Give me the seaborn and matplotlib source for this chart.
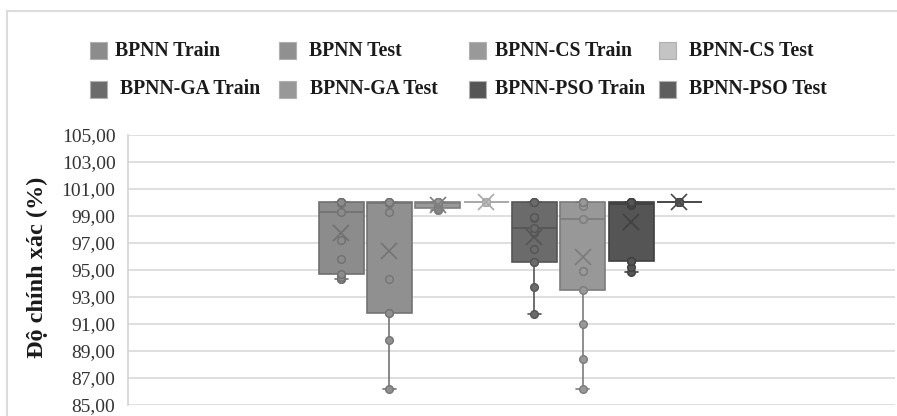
import matplotlib
matplotlib.use("Agg")
import matplotlib.pyplot as plt
from matplotlib.patches import Rectangle
from matplotlib.ticker import FuncFormatter
import seaborn as sns
import pandas as pd

# series shown left to right (and in legend order)
names = ["BPNN Train", "BPNN Test", "BPNN-CS Train", "BPNN-CS Test",
         "BPNN-GA Train", "BPNN-GA Test", "BPNN-PSO Train", "BPNN-PSO Test"]

# accuracy values (%)
bpnn_train = [94.3, 94.35, 94.5, 94.65, 95.8, 97.2, 99.27, 99.9, 100, 100, 100, 100, 100]
bpnn_test = [86.2, 89.8, 91.77, 91.77, 94.28, 99.27, 99.9, 99.95, 100, 100, 100, 100, 100]
cs_train = [99.4, 99.45, 99.5, 99.6, 99.75, 99.85, 99.95, 100, 100, 100, 100, 100, 100]
cs_test = [100, 100, 100, 100, 100, 100, 100, 100, 100, 100, 100, 100, 100]
ga_train = [91.72, 93.69, 95.58, 95.58, 96.5, 97.7, 98.11, 98.82, 98.9, 100, 100, 100, 100]
ga_test = [86.18, 88.4, 91.0, 93.49, 94.91, 94.91, 98.73, 99.69, 100, 100, 100, 100, 100]
pso_train = [94.85, 95.2, 95.65, 95.65, 99.81, 99.81, 99.89, 100, 100, 100, 100, 100, 100]
pso_test = [100, 100, 100, 100, 100, 100, 100, 100, 100, 100, 100, 100, 100]

yticks = [85, 87, 89, 91, 93, 95, 97, 99, 101, 103, 105]

values = [bpnn_train, bpnn_test, cs_train, cs_test, ga_train, ga_test, pso_train, pso_test]
fills = ["#8c8c8c", "#909090", "#999999", "#c4c4c4", "#6b6b6b", "#989898", "#555555", "#5e5e5e"]
edges = ["#707070", "#747474", "#7e7e7e", "#a8a8a8", "#555555", "#7c7c7c", "#404040", "#484848"]

rows = []
for name, vals in zip(names, values):
    for v in vals:
        rows.append({"series": name, "acc": v})
df = pd.DataFrame(rows)

sns.set_style("white")
plt.rcParams["font.family"] = ["Liberation Serif", "DejaVu Serif"]

W, H = 897, 416
fig = plt.figure(figsize=(W / 100, H / 100), dpi=100)
ax = fig.add_axes([128 / W, 1 - 405 / H, (895 - 128) / W, (405 - 134.5) / H])

for name, c, e in zip(names, fills, edges):
    sub = df[df["series"] == name]
    sns.boxplot(data=sub, x="series", y="acc", order=names, color=c, linecolor=e,
                width=0.93, linewidth=1.2, showmeans=True, showfliers=False,
                capwidths=0.27,
                meanprops=dict(marker="x", markersize=12, markeredgecolor=e,
                               markeredgewidth=1.2, zorder=5),
                ax=ax)
    sns.stripplot(data=sub, x="series", y="acc", order=names, color=c, jitter=False,
                  size=5.5, linewidth=1, edgecolor=e, zorder=4, ax=ax)

ax.set_xlim(-4.407, 11.46)
ax.set_ylim(85, 105)
ax.set_yticks(yticks)
ax.yaxis.set_major_formatter(FuncFormatter(lambda v, p: f"{v:.2f}".replace(".", ",")))
ax.set_xticks([])
ax.set_xlabel("")
ax.set_ylabel("")
ax.grid(axis="y", color="#d9d9d9", linewidth=1.2)
ax.set_axisbelow(True)
for s in ["top", "right", "bottom"]:
    ax.spines[s].set_visible(False)
ax.spines["left"].set_color("#d4d4d4")
ax.spines["left"].set_linewidth(1.2)
ax.tick_params(axis="y", length=0, pad=9, labelsize=14, labelcolor="#333333")
for t in ax.get_yticklabels():
    t.set_clip_on(False)

fig.text(37 / W, 1 - 267 / H, "Độ chính xác (%)", rotation=90, ha="center", va="center",
         fontsize=17.5, fontweight="bold", color="#1a1a1a")

# outer chart border
fig.patches.append(Rectangle((7 / W, -0.2), 1.2, 1.2 - 11 / H, transform=fig.transFigure,
                             fill=False, edgecolor="#dcdcdc", linewidth=1.5))

# legend laid out like the original, 4 columns x 2 rows
sq_x = [90, 279, 469, 659]
txt_x = [[115, 309, 495, 689], [120, 310, 495, 689]]
row_y = [50.5, 89]
for i, (name, c) in enumerate(zip(names, fills)):
    r, col = divmod(i, 4)
    fig.patches.append(Rectangle((sq_x[col] / W, 1 - (row_y[r] + 8.5) / H), 17 / W, 17 / H,
                                 transform=fig.transFigure, facecolor=c,
                                 edgecolor="#b0b0b0", linewidth=0.8))
    fig.text(txt_x[r][col] / W, 1 - row_y[r] / H, name, ha="left", va="center",
             fontsize=14.2, fontweight="bold", color="#1a1a1a")

fig.savefig("out.png", dpi=100)
